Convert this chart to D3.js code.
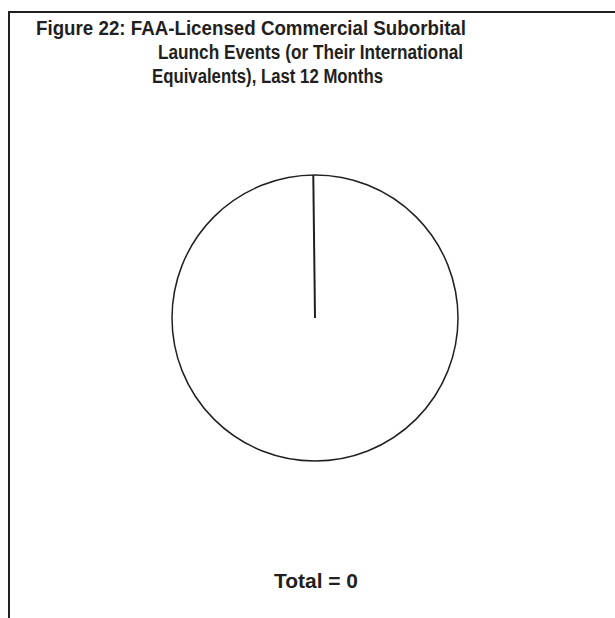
<!DOCTYPE html>
<html>
<head>
<meta charset="utf-8">
<script src="https://cdn.jsdelivr.net/npm/d3@7"></script>
<style>
  body { margin: 0; background: #fff; }
  svg { display: block; font-family: "Liberation Sans", Arial, sans-serif; }
</style>
</head>
<body>
<div id="chart"></div>
<script>
// Title lines and data (all launch categories had zero events)
const titleLines = [
    "Figure 22: FAA-Licensed Commercial Suborbital",
    "Launch Events (or Their International",
    "Equivalents), Last 12 Months"
];
const categories = ["U.S.", "Other"];
const launchCounts = [0, 0];

const width = 615, height = 618;

const svg = d3.select("#chart")
    .append("svg")
    .attr("width", width)
    .attr("height", height);

// frame: top and left edges only
svg.append("path")
    .attr("d", "M9,618 V12 H615")
    .attr("fill", "none")
    .attr("stroke", "#231f20")
    .attr("stroke-width", 2);

// title, squeezed a little to the narrower print face
const titleX = [36, 158, 152];
const titleW = [430, 305, 231];
const title = svg.append("g")
    .attr("font-weight", "bold")
    .attr("font-size", 19.5)
    .attr("fill", "#231f20");

title.selectAll("text")
    .data(titleLines)
    .enter()
    .append("text")
    .attr("x", (d, i) => titleX[i])
    .attr("y", (d, i) => 35 + i * 24)
    .attr("textLength", (d, i) => titleW[i])
    .attr("lengthAdjust", "spacingAndGlyphs")
    .text(d => d);

// pie
const total = d3.sum(launchCounts);
const cx = 315, cy = 318, radius = 143;

const pie = d3.pie().sort(null).value(d => d);
const arcs = pie(launchCounts);

const chart = svg.append("g")
    .attr("transform", `translate(${cx},${cy})`);

// with a zero total every slice is empty, so the outline is the whole circle
chart.append("path")
    .attr("d", d3.arc().innerRadius(0).outerRadius(radius)({startAngle: 0, endAngle: 2 * Math.PI}))
    .attr("fill", "#fff")
    .attr("stroke", "#231f20")
    .attr("stroke-width", 1.5);

// the slice edge left at the start angle
const edgeAngle = arcs[0].startAngle - 0.012;
chart.append("line")
    .attr("x1", 0)
    .attr("y1", 0)
    .attr("x2", radius * Math.sin(edgeAngle))
    .attr("y2", -radius * Math.cos(edgeAngle))
    .attr("stroke", "#231f20")
    .attr("stroke-width", 2);

// total label
svg.append("text")
    .attr("x", 316)
    .attr("y", 588)
    .attr("text-anchor", "middle")
    .attr("font-weight", "bold")
    .attr("font-size", 20)
    .attr("textLength", 84)
    .attr("lengthAdjust", "spacingAndGlyphs")
    .attr("fill", "#231f20")
    .text(`Total = ${total}`);
</script>
</body>
</html>
